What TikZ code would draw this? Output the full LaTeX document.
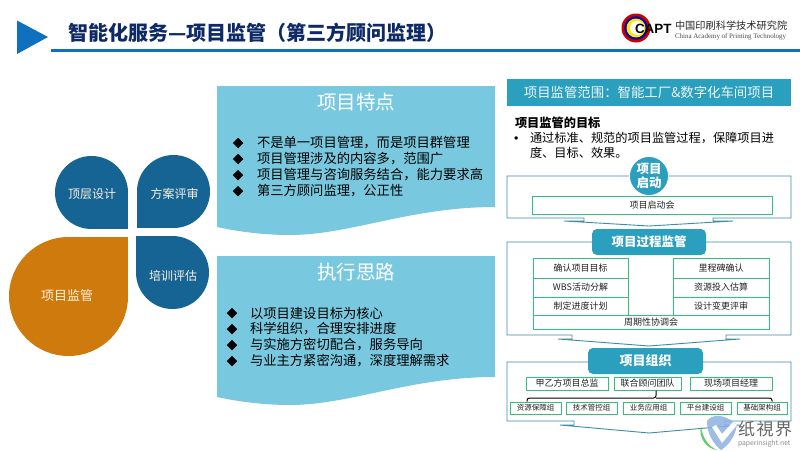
\documentclass[tikz,border=0pt]{standalone}
\usepackage{fontspec}
\setmainfont{Noto Sans CJK SC}
\newfontfamily\latinserif{Liberation Serif}
\newfontfamily\latinsans{Liberation Sans}
\usetikzlibrary{shapes.geometric}
\definecolor{navy}{HTML}{0E2A66}
\definecolor{ruleblue}{HTML}{1070C0}
\definecolor{petal}{HTML}{156494}
\definecolor{petalorange}{HTML}{CF7A0C}
\definecolor{panel}{HTML}{78C9DF}
\definecolor{teal}{HTML}{2A9FBE}
\definecolor{tealline}{HTML}{3F8CA8}
\definecolor{greenline}{HTML}{2EC27A}
\definecolor{txt}{HTML}{222222}
\tikzset{
  every node/.style={inner sep=0pt,outer sep=0pt},
  petaltext/.style={text=white!88!orange,font=\fontsize{12}{14}\selectfont},
  paneltitle/.style={text=white,font=\fontsize{19.5}{22}\selectfont},
  paneltext/.style={anchor=west,text=black,font=\fontsize{13.3}{15}\selectfont},
  panelmark/.style={diamond,fill=black,minimum width=10.5pt,minimum height=10.5pt},
  callout/.style={draw=tealline,line width=0.9pt,fill=white,line join=miter},
  hdr/.style={rounded corners=5pt,fill=teal,text=white,font=\bfseries\fontsize{12.5}{14}\selectfont},
  gbox/.style={draw=greenline,line width=0.9pt,fill=white,text=txt,font=\fontsize{9}{10}\selectfont},
  sbox/.style={draw=greenline,line width=0.9pt,fill=white,text=txt,font=\fontsize{7.5}{9}\selectfont},
  goaltext/.style={anchor=west,text=black,font=\fontsize{12.2}{14}\selectfont},
}
\newcommand{\gb}[7][gbox]{\node[#1,minimum width=#5pt-#4pt,minimum height=#7pt-#6pt,anchor=north west] (#2) at (#4,#6) {#3};}
\begin{document}
\begin{tikzpicture}[x=1pt,y=-1pt]
\useasboundingbox (0,0) rectangle (800,450);
\fill[white] (0,0) rectangle (800,450);
% header
\fill[ruleblue] (17,20.5) -- (48,37) -- (17,54) -- cycle;
\fill[ruleblue] (51,48.5) rectangle (800,51.5);
\node[anchor=west,text=navy,font=\bfseries\fontsize{20}{24}\selectfont] (title) at (68,33) {智能化服务—项目监管（第三方顾问监理）};
% logo
\fill[red!80!black] (636,28) circle (14.5);
\fill[blue!70!black] (636,28) circle (11.8);
\fill[yellow!90!orange] (636,28) circle (9.5);
\fill[white] (637,28) circle (7);
\node[anchor=west,text=black,font=\latinsans\bfseries\fontsize{13.4}{16}\selectfont] (capt) at (635,28.5) {CAPT};
\node[anchor=west,text=black!85,font=\fontsize{10.2}{10.2}\selectfont] (cn) at (675,25.5) {中国印刷科学技术研究院};
\node[anchor=west,text=black!70,font=\latinserif\fontsize{6.95}{8}\selectfont] (en) at (675,37) {China Academy of Printing Technology};
% petals
\fill[petal] (91.5,192.5) circle (36.5);
\fill[petal] (91.5,192.5) rectangle (128,229);
\fill[petal] (173.5,191.5) circle (36.5);
\fill[petal] (137,191.5) rectangle (173.5,228);
\fill[petal] (172.5,272.5) circle (36.5);
\fill[petal] (136,236) rectangle (172.5,272.5);
\fill[petalorange] (68.5,296.5) circle (59.5);
\fill[petalorange] (68.5,237) rectangle (128,296.5);
\node[petaltext] (p1) at (92,194.5) {顶层设计};
\node[petaltext] (p2) at (174.5,194) {方案评审};
\node[petaltext] (p3) at (173,276) {培训评估};
\node[petaltext,font=\fontsize{13}{15}\selectfont] (p4) at (67,295.5) {项目监管};
% panels
\foreach \d/\n in {0/a,170/b}{
  \fill[panel] (217,86+\d) -- (495,86+\d) -- (495,207+\d) .. controls (410,207+\d) and (350,235+\d) .. (290,235+\d) .. controls (265,235+\d) and (240,232+\d) .. (217,227+\d) -- cycle;
}
\node[paneltitle] (t1) at (356,102.5) {项目特点};
\node[paneltitle] (t2) at (356,272) {执行思路};
\foreach \y/\s [count=\i] in {143/不是单一项目管理，而是项目群管理,159/项目管理涉及的内容多，范围广,175/项目管理与咨询服务结合，能力要求高,191/第三方顾问监理，公正性}{
  \node[panelmark] (ma\i) at (238,\y) {};
  \node[paneltext] (ta\i) at (257,\y) {\s};
}
\foreach \y/\s [count=\i] in {313/以项目建设目标为核心,329/科学组织，合理安排进度,345/与实施方密切配合，服务导向,361/与业主方紧密沟通，深度理解需求}{
  \node[panelmark] (mb\i) at (232,\y) {};
  \node[paneltext] (tb\i) at (250,\y) {\s};
}
% right header
\node[fill=teal,text=white!92!teal,minimum width=284pt,minimum height=27pt,font=\fontsize{13.4}{15}\selectfont] (scope) at (649,92.5) {项目监管范围：智能工厂\&数字化车间项目};
\node[goaltext,font=\bfseries\fontsize{12.2}{14}\selectfont] (goal) at (515,123) {项目监管的目标};
\node[goaltext,font=\latinsans\fontsize{12.2}{14}\selectfont] (dot) at (514,140) {•};
\node[goaltext] (g1) at (530,138) {通过标准、规范的项目监管过程，保障项目进};
\node[goaltext] (g2) at (530,153) {度、目标、效果。};
% callout frames
\draw[callout] (507,176) -- (791,176) -- (791,218) -- (713,218) -- (713,221) -- (733,221) -- (649,226) -- (564,221) -- (584,221) -- (584,218) -- (507,218) -- cycle;
\draw[callout] (507,242) -- (791,242) -- (791,335) -- (726,335) -- (726,339) -- (740,339) -- (649,346) -- (558,339) -- (572,339) -- (572,335) -- (507,335) -- cycle;
\draw[callout] (507,362) -- (791,362) -- (791,421) -- (725,421) -- (725,425) -- (740,425) -- (649,433) -- (560,425) -- (574,425) -- (574,421) -- (507,421) -- cycle;
% stage 1
\node[circle,fill=teal,draw=white,line width=0.8pt,minimum size=39pt,text=white,align=center,font=\bfseries\fontsize{12.5}{13.5}\selectfont] (start) at (649,176) {项目\\启动};
\gb{kick}{项目启动会}{532}{772}{196}{214}
% stage 2
\node[hdr,minimum width=114pt,minimum height=26pt] (proc) at (649,242) {项目过程监管};
\gb{l1}{确认项目目标}{533}{628}{258}{278}
\gb{l2}{WBS活动分解}{533}{628}{278}{297}
\gb{l3}{制定进度计划}{533}{628}{297}{315}
\gb{r1}{里程碑确认}{673}{769}{258}{278}
\gb{r2}{资源投入估算}{673}{769}{278}{297}
\gb{r3}{设计变更评审}{673}{769}{297}{315}
\gb{cyc}{周期性协调会}{533}{769}{315}{329}
% stage 3
\node[hdr,minimum width=115pt,minimum height=26pt,font=\bfseries\fontsize{13}{15}\selectfont] (org) at (645.5,361) {项目组织};
\gb{o1}{甲乙方项目总监}{526}{608}{377}{390}
\gb{o2}{联合顾问团队}{614}{681}{377}{390}
\gb{o3}{现场项目经理}{690}{772}{377}{390}
\gb[sbox]{s1}{资源保障组}{510}{561}{402}{414}
\gb[sbox]{s2}{技术管控组}{566}{617}{402}{414}
\gb[sbox]{s3}{业务应用组}{623}{674}{402}{414}
\gb[sbox]{s4}{平台建设组}{680}{731}{402}{414}
\gb[sbox]{s5}{基础架构组}{737}{787}{402}{414}
\coordinate (bl) at (527,401.5);
\coordinate (br) at (772,401.5);
\draw[black,line width=1pt,rounded corners=2.5pt] (bl) -- (527,398) -- (656,398) -- (656,390.5);
\draw[black,line width=1pt,rounded corners=2.5pt] (br) -- (772,398) -- (656,398);
% watermark
\fill[cyan!55!blue!45!white,opacity=.85] (707,421) .. controls (712,414) and (724,413) .. (737,425) .. controls (735,437) and (728,446) .. (721,450) .. controls (713,444) and (707,433) .. (707,421) -- cycle;
\fill[white] (712,427) -- (716,425) -- (722,434) -- (733,422) -- (737,425) -- (722,443) -- cycle;
\fill[green!50!gray,opacity=.8] (701,426) .. controls (702,437) and (708,446) .. (717,450) .. controls (707,449) and (698,438) .. (701,426) -- cycle;
\node[anchor=west,text=black!60,font=\fontsize{17}{17}\selectfont] (wm) at (738,429.5) {纸\kern1.5pt 視\kern1.5pt 界};
\node[anchor=west,text=black!45,font=\fontsize{6.8}{7}\selectfont] (wu) at (738,444) {paperinsight.net};
\end{tikzpicture}
\end{document}
